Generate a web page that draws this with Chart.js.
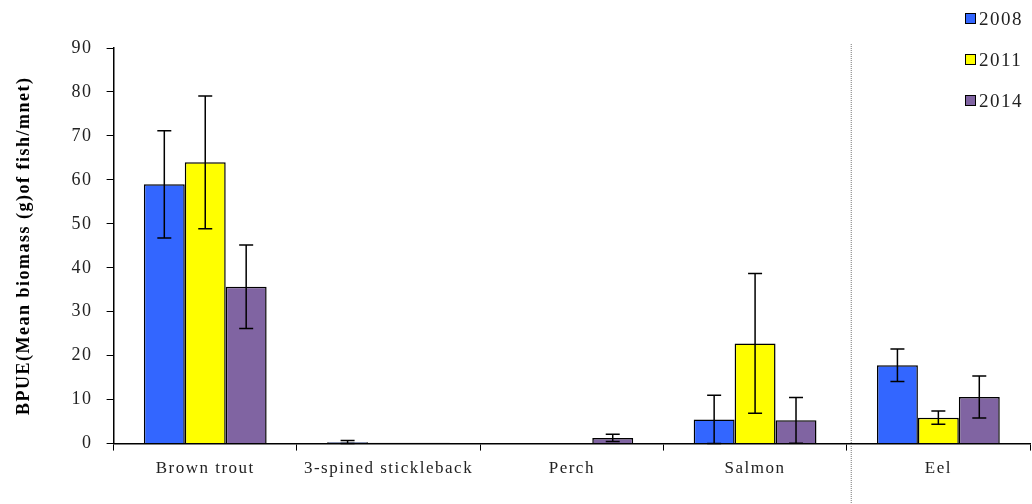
<!DOCTYPE html>
<html>
<head>
<meta charset="utf-8">
<script src="https://cdn.jsdelivr.net/npm/chart.js@4/dist/chart.umd.min.js"></script>
<style>
    html, body { margin: 0; padding: 0; background: #fff; }
    #wrap { position: relative; width: 1032px; height: 504px; }
    #legend { position: absolute; left: 965px; top: -2px; font-family: "Liberation Serif", serif; font-size: 19px; letter-spacing: 1.5px; color: #222; }
    #legend .item { display: flex; align-items: center; height: 41px; }
    #legend .box { width: 9px; height: 9px; border: 1.5px solid #000; margin-right: 3px; }
</style>
</head>
<body>
<div id="wrap">
    <canvas id="chart" width="1032" height="504"></canvas>
    <div id="legend"></div>
</div>
<script>
const categories = ['Brown trout', '3-spined stickleback', 'Perch', 'Salmon', 'Eel'];
const years = ['2008', '2011', '2014'];
const colors = ['#3366ff', '#ffff00', '#8064a2'];

const values2008 = [59, 0.3, 0, 5.5, 17.8];
const values2011 = [64, 0.2, 0, 22.8, 5.9];
const values2014 = [35.7, 0.2, 1.3, 5.3, 10.6];

const errors2008 = [12.2, 0.4, 0, 5.5, 3.7];
const errors2011 = [15.1, 0, 0, 15.9, 1.5];
const errors2014 = [9.5, 0, 0.8, 5.2, 4.8];

const yTicks = [0, 10, 20, 30, 40, 50, 60, 70, 80, 90];

const seriesValues = [values2008, values2011, values2014];
const seriesErrors = [errors2008, errors2011, errors2014];

// stretched look of the original text
const spacing = {
    id: 'spacing',
    beforeLayout(chart) { chart.ctx.letterSpacing = '1.5px'; },
    beforeDraw(chart) { chart.ctx.letterSpacing = '1.5px'; }
};

const errorBars = {
    id: 'errorBars',
    afterDatasetsDraw(chart) {
        const ctx = chart.ctx;
        const y = chart.scales.y;
        ctx.save();
        ctx.strokeStyle = '#000';
        ctx.lineWidth = 1.5;
        chart.data.datasets.forEach((ds, i) => {
            const meta = chart.getDatasetMeta(i);
            meta.data.forEach((bar, j) => {
                const err = seriesErrors[i][j];
                if (!err) return;
                const v = ds.data[j];
                const top = y.getPixelForValue(v + err);
                const bot = y.getPixelForValue(Math.max(0, v - err));
                ctx.beginPath();
                ctx.moveTo(bar.x, top);
                ctx.lineTo(bar.x, bot);
                ctx.moveTo(bar.x - 7, top);
                ctx.lineTo(bar.x + 7, top);
                ctx.moveTo(bar.x - 7, bot);
                ctx.lineTo(bar.x + 7, bot);
                ctx.stroke();
            });
        });
        ctx.restore();
    }
};

const divider = {
    id: 'divider',
    afterDraw(chart) {
        const ctx = chart.ctx;
        const x = chart.scales.x;
        const px = (x.getPixelForValue(3) + x.getPixelForValue(4)) / 2 + 4;
        ctx.save();
        ctx.strokeStyle = '#777';
        ctx.lineWidth = 1;
        ctx.setLineDash([1, 1]);
        ctx.beginPath();
        ctx.moveTo(px + 0.5, 44);
        ctx.lineTo(px + 0.5, chart.height);
        ctx.stroke();
        ctx.restore();
    }
};

new Chart(document.getElementById('chart'), {
    type: 'bar',
    data: {
        labels: categories,
        datasets: years.map((yr, i) => ({
            label: yr,
            data: seriesValues[i],
            backgroundColor: colors[i],
            borderColor: '#000',
            borderWidth: 1.5,
            categoryPercentage: 0.67,
            barPercentage: 1
        }))
    },
    options: {
        responsive: false,
        animation: false,
        layout: { padding: { top: 48, right: 2, left: 14, bottom: 17 } },
        plugins: {
            legend: { display: false },
            tooltip: { enabled: false }
        },
        scales: {
            x: {
                grid: { display: true, drawOnChartArea: false, offset: true, color: '#000', tickLength: 7, lineWidth: 1 },
                border: { color: '#000', width: 1.5 },
                ticks: { color: '#222', font: { family: 'Liberation Serif', size: 17 }, padding: 8, maxRotation: 0, minRotation: 0, autoSkip: false }
            },
            y: {
                min: 0,
                max: 90,
                afterBuildTicks(scale) { scale.ticks = yTicks.map(v => ({ value: v })); },
                grid: { display: true, drawOnChartArea: false, color: '#000', tickLength: 7, lineWidth: 1 },
                border: { color: '#000', width: 1.5 },
                ticks: { color: '#222', font: { family: 'Liberation Serif', size: 18 }, padding: 14 },
                title: {
                    display: true,
                    text: 'BPUE(Mean biomass (g)of fish/mnet)',
                    color: '#000',
                    font: { family: 'Liberation Serif', size: 18, weight: 'bold' },
                    padding: { top: 0, bottom: 22 }
                }
            }
        }
    },
    plugins: [spacing, errorBars, divider]
});

const legend = document.getElementById('legend');
years.forEach((yr, i) => {
    const item = document.createElement('div');
    item.className = 'item';
    item.innerHTML = `<span class="box" style="background:${colors[i]}"></span><span>${yr}</span>`;
    legend.appendChild(item);
});
</script>
</body>
</html>
